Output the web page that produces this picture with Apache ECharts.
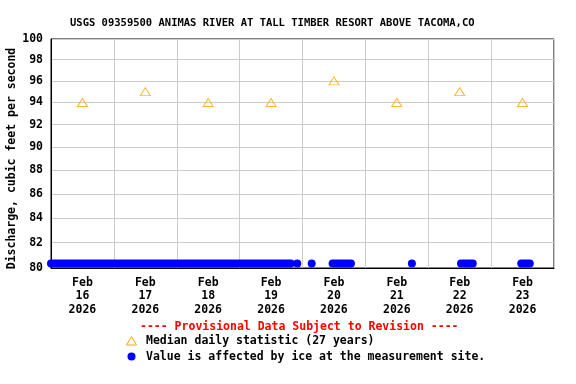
<!DOCTYPE html>
<html>
<head>
<meta charset="utf-8">
<script src="https://cdn.jsdelivr.net/npm/echarts@6/dist/echarts.min.js"></script>
<style>html,body{margin:0;padding:0;background:#fff}#c{width:576px;height:384px}</style>
</head>
<body>
<div id="c"></div>
<script>
// ---- data ----
const titleText = 'USGS 09359500 ANIMAS RIVER AT TALL TIMBER RESORT ABOVE TACOMA,CO';
const yAxisName = 'Discharge, cubic feet per second';
const month = 'Feb';
const year = '2026';
const days = ['16', '17', '18', '19', '20', '21', '22', '23'];
const yTicks = [80, 82, 84, 86, 88, 90, 92, 94, 96, 98, 100];
const medianValues = [94, 95, 94, 94, 96, 94, 95, 94];
// ice-affected periods, hours since Feb 16 00:00 [start, end]
const iceStart = [0, 94, 99.5, 107.5, 137.75, 156.5, 179.5];
const iceEnd = [91.5, 94, 99.5, 114.5, 137.75, 161, 182.75];
const iceValue = 80;
const provisionalText = '---- Provisional Data Subject to Revision ----';
const legendMedian = 'Median daily statistic (27 years)';
const legendIce = 'Value is affected by ice at the measurement site.';

const FONT = 'DejaVu Sans Mono';
const chart = echarts.init(document.getElementById('c'), null, {renderer: 'canvas'});
const catLabels = days.map(d => month + '\n' + d + '\n' + year);
const iceData = iceStart.map((s, i) => [s, iceEnd[i], iceValue]);
const txt = (size, color) => ({fontFamily: FONT, fontSize: size, fontWeight: 'bold', fill: color});

chart.setOption({
  animation: false,
  backgroundColor: '#fff',
  title: {
    text: titleText, left: 65, top: 13,
    textStyle: {fontFamily: FONT, fontSize: 10.5, fontWeight: 'bold', color: '#000'}
  },
  grid: {left: 51, top: 39, width: 503, height: 229, show: true, borderColor: '#000', borderWidth: 1,
         containLabel: false, outerBoundsMode: 'none'},
  xAxis: [
    {
      type: 'value', min: 0, max: 192, interval: 24,
      axisLine: {show: true, lineStyle: {color: '#000', width: 1}},
      axisTick: {show: false}, axisLabel: {show: false},
      splitLine: {show: true, lineStyle: {color: '#cccccc', width: 1}}
    },
    {
      type: 'category', data: catLabels, boundaryGap: true, position: 'bottom',
      axisLine: {show: false}, axisTick: {show: false}, splitLine: {show: false},
      axisLabel: {margin: 8, lineHeight: 13.5, fontFamily: FONT, fontSize: 11.5, fontWeight: 'bold', color: '#000', interval: 0}
    }
  ],
  yAxis: {
    type: 'log', logBase: 10, min: 80, max: 100,
    name: yAxisName, nameLocation: 'middle', nameGap: 33, nameMoveOverlap: false,
    nameTextStyle: {fontFamily: FONT, fontSize: 11.5, fontWeight: 'bold', color: '#000', padding: [0, 10, 0, 0]},
    axisLine: {show: true, lineStyle: {color: '#000', width: 1}},
    axisTick: {show: false, customValues: yTicks},
    axisLabel: {customValues: yTicks, margin: 8, fontFamily: FONT, fontSize: 11.5, fontWeight: 'bold', color: '#000'},
    splitLine: {show: true, lineStyle: {color: '#cccccc', width: 1}},
    minorSplitLine: {show: false}
  },
  series: [
    {
      type: 'custom', xAxisIndex: 0, yAxisIndex: 0, clip: false,
      data: iceData,
      encode: {x: [0, 1], y: 2},
      renderItem: function (params, api) {
        const p0 = api.coord([api.value(0), api.value(2)]);
        const p1 = api.coord([api.value(1), api.value(2)]);
        const r = 4;
        return {
          type: 'rect',
          shape: {x: p0[0] - r, y: p0[1] - 8.5, width: (p1[0] - p0[0]) + 2 * r, height: 8, r: r},
          style: {fill: '#0000ff'}
        };
      },
      z: 5
    },
    {
      type: 'scatter', xAxisIndex: 1, yAxisIndex: 0,
      data: medianValues,
      symbol: 'triangle', symbolSize: [10, 8],
      itemStyle: {color: 'none', borderColor: '#ffa500', borderWidth: 1},
      z: 6
    }
  ],
  graphic: [
    {type: 'text', left: 140, top: 321, style: Object.assign({text: provisionalText}, txt(11.5, '#ff0000'))},
    {type: 'polygon', shape: {points: [[131.5, 336.5], [126.5, 345], [136.5, 345]]}, style: {fill: 'none', stroke: '#ffa500', lineWidth: 1}},
    {type: 'text', left: 146, top: 335, style: Object.assign({text: legendMedian}, txt(11.5, '#000'))},
    {type: 'circle', shape: {cx: 131.5, cy: 356.5, r: 4}, style: {fill: '#0000ff'}},
    {type: 'text', left: 146, top: 351, style: Object.assign({text: legendIce}, txt(11.5, '#000'))}
  ]
});
</script>
</body>
</html>
